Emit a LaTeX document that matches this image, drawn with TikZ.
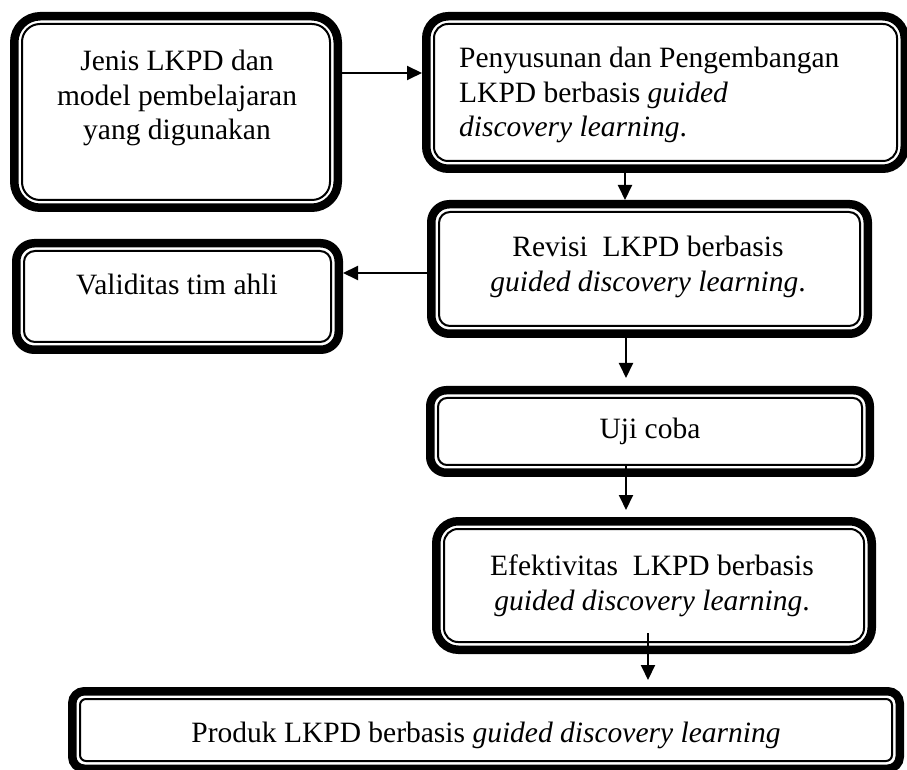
\documentclass[tikz,border=0pt]{standalone}
\usepackage{fontspec}
\setmainfont{Liberation Serif}
\usetikzlibrary{fit,arrows.meta}
\tikzset{
  x=1pt, y=1pt,
  frame/.style={draw=none, inner sep=0pt, outer sep=0pt},
  thickline/.style={line width=8.5pt},
  thinline/.style={line width=2pt},
  lbl/.style={font=\fontsize{29.5}{34.5}\selectfont, align=center, inner sep=0pt},
  arr/.style={line width=2pt, -{Triangle[length=15pt,width=14pt]}},
}
\newcommand{\dblbox}[7]{%
  \node[frame, fit={(#2,#3) (#4,#5)}] (#1) {};
  \draw[thickline, rounded corners=#6] ([shift={(4.25pt,-4.25pt)}]#1.north west) rectangle ([shift={(-4.25pt,4.25pt)}]#1.south east);
  \draw[thinline, rounded corners=#7] ([shift={(12pt,-12pt)}]#1.north west) rectangle ([shift={(-12pt,12pt)}]#1.south east);
}
\begin{document}
\begin{tikzpicture}
\useasboundingbox (0,0) rectangle (907,769);
\dblbox{jenis}{10}{757}{342}{557}{26pt}{18pt}
\dblbox{peny}{422}{757}{909}{596}{22pt}{14pt}
\dblbox{rev}{427}{569}{872}{431}{18pt}{11pt}
\dblbox{valid}{12}{530}{343}{415}{18pt}{11pt}
\dblbox{uji}{426}{383}{874}{292}{16pt}{9pt}
\dblbox{efek}{432}{252}{876}{115}{22pt}{14pt}
\dblbox{prod}{68}{82}{904}{-4}{12pt}{6pt}

\node[lbl] (jenis-t) at (177,671) {Jenis LKPD dan\\model pembelajaran\\yang digunakan};
\node[lbl, align=left, anchor=west] (peny-t) at (459,674) {Penyusunan dan Pengembangan\\LKPD berbasis \textit{guided}\\\textit{discovery learning}.};
\node[lbl] (rev-t) at (648,502) {Revisi~~LKPD berbasis\\\textit{guided discovery learning}.};
\node[lbl] (valid-t) at (177,485) {Validitas tim ahli};
\node[lbl] (uji-t) at (650,338) {Uji coba};
\node[lbl] (efek-t) at (652,183) {Efektivitas~~LKPD berbasis\\\textit{guided discovery learning}.};
\node[lbl] (prod-t) at (486,34) {Produk LKPD berbasis \textit{guided discovery learning}};

\draw[arr] (jenis.east |- 0,696) -- (peny.west |- 0,696);
\draw[arr] (peny.south -| 625,0) -- (rev.north -| 625,0);
\draw[arr] (rev.west |- 0,496) -- (valid.east |- 0,496);
\draw[arr, shorten >=8pt] (rev.south -| 626,0) -- (uji.north -| 626,0);
\draw[arr, shorten <=-12pt, shorten >=7pt] (uji.south -| 626,0) -- (efek.north -| 626,0);
\draw[arr, shorten <=-21pt, shorten >=7pt] (efek.south -| 648,0) -- (prod.north -| 648,0);
\end{tikzpicture}
\end{document}
